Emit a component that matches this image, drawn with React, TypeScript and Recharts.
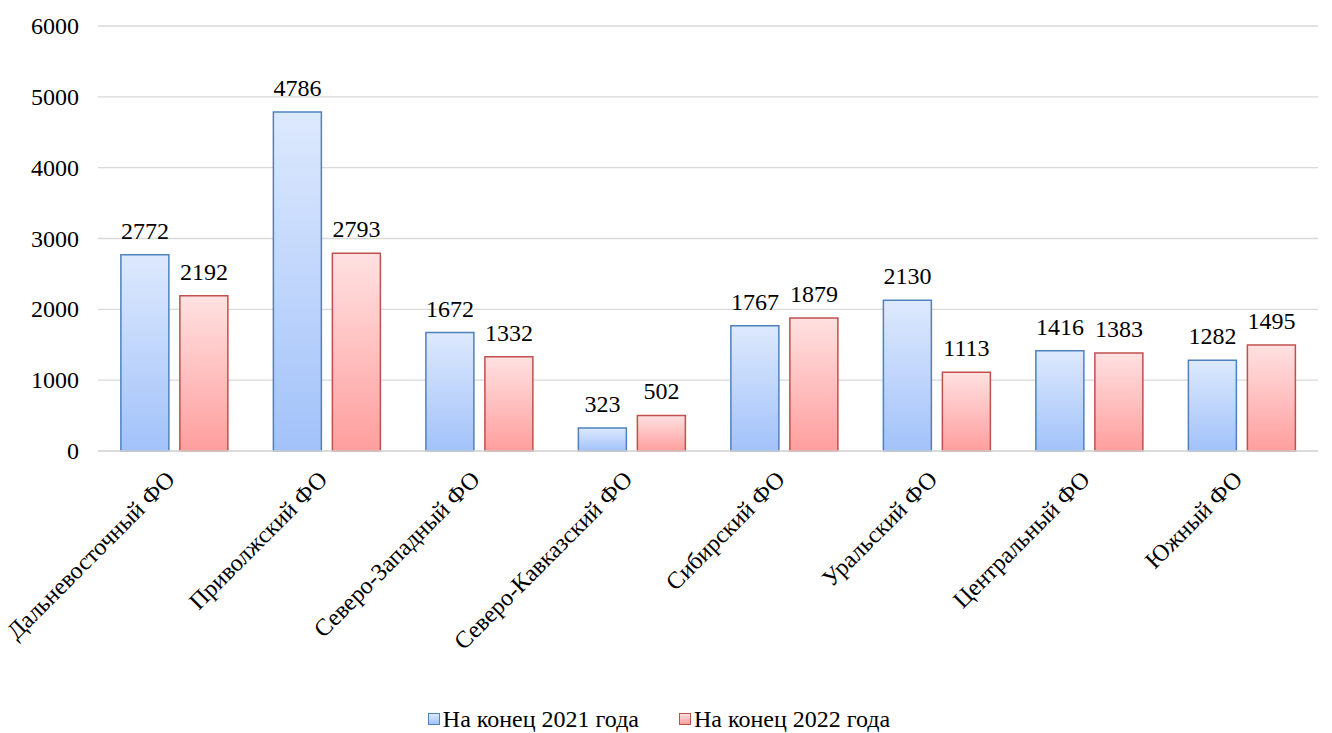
import React from 'react';
import { BarChart, Bar, XAxis, YAxis, CartesianGrid, LabelList, Legend } from 'recharts';

const categories = ['Дальневосточный ФО', 'Приволжский ФО', 'Северо-Западный ФО', 'Северо-Кавказский ФО', 'Сибирский ФО', 'Уральский ФО', 'Центральный ФО', 'Южный ФО'];
const values2021 = [2772, 4786, 1672, 323, 1767, 2130, 1416, 1282];
const values2022 = [2192, 2793, 1332, 502, 1879, 1113, 1383, 1495];
const yTicks = [0, 1000, 2000, 3000, 4000, 5000, 6000];
const seriesNames = ['На конец 2021 года', 'На конец 2022 года'];

const data = categories.map((c, i) => ({ name: c, a: values2021[i], b: values2022[i] }));

const FONT = 'Liberation Serif, Tinos, serif';
const FS = 24;

const XTick = (props: any) => {
  const { x, y, payload } = props;
  const tx = x + 2;
  const ty = y + 22;
  return (
    <text x={tx} y={ty} transform={`rotate(-45, ${tx}, ${ty})`} textAnchor="end" fontFamily={FONT} fontSize={FS} fill="#000">
      {payload.value}
    </text>
  );
};

const YTick = (props: any) => {
  const { x, y, payload } = props;
  return (
    <text x={x} y={y} dy={8} textAnchor="end" fontFamily={FONT} fontSize={FS} fill="#000">
      {payload.value}
    </text>
  );
};

const BarLabel = (props: any) => {
  const { x, y, width, value } = props;
  return (
    <text x={x + width / 2} y={y - 16} textAnchor="middle" fontFamily={FONT} fontSize={FS} fill="#000">
      {value}
    </text>
  );
};

const LegendContent = () => (
  <div style={{ display: 'flex', justifyContent: 'center', fontFamily: FONT, fontSize: FS, color: '#000', lineHeight: '28px' }}>
    <span style={{ display: 'flex', alignItems: 'center', marginRight: 40 }}>
      <span style={{ width: 10, height: 10, background: 'linear-gradient(#dce8fd, #a3c3fa)', border: '1.5px solid #4f81bd', marginRight: 3 }} />
      {seriesNames[0]}
    </span>
    <span style={{ display: 'flex', alignItems: 'center' }}>
      <span style={{ width: 10, height: 10, background: 'linear-gradient(#ffe0e0, #ff9f9f)', border: '1.5px solid #c0504d', marginRight: 3 }} />
      {seriesNames[1]}
    </span>
  </div>
);

export default function App() {
  return (
    <div style={{ position: 'absolute', left: 0, top: 0, background: '#fff', fontFamily: FONT }}>
      <BarChart width={1332} height={733} data={data} margin={{ top: 26, right: 14, left: 0, bottom: 0 }} barCategoryGap="15%" barGap={11}>
        <defs>
          <linearGradient id="gBlue" x1="0" y1="0" x2="0" y2="1">
            <stop offset="0%" stopColor="#dde9fd" />
            <stop offset="100%" stopColor="#a2c2fa" />
          </linearGradient>
          <linearGradient id="gRed" x1="0" y1="0" x2="0" y2="1">
            <stop offset="0%" stopColor="#ffe1e1" />
            <stop offset="100%" stopColor="#ff9e9e" />
          </linearGradient>
        </defs>
        <CartesianGrid vertical={false} stroke="#d9d9d9" strokeWidth={1.3} />
        <XAxis dataKey="name" interval={0} tickLine={false} axisLine={{ stroke: '#d9d9d9', strokeWidth: 1.3 }} height={254} tick={<XTick />} />
        <YAxis width={98} domain={[0, 6000]} ticks={yTicks} tickLine={false} axisLine={false} tickMargin={13} tick={<YTick />} />
        <Legend verticalAlign="bottom" content={<LegendContent />} wrapperStyle={{ bottom: 0 }} />
        <Bar dataKey="a" name={seriesNames[0]} fill="url(#gBlue)" stroke="#4f81bd" strokeWidth={1.5} isAnimationActive={false}>
          <LabelList dataKey="a" content={<BarLabel />} />
        </Bar>
        <Bar dataKey="b" name={seriesNames[1]} fill="url(#gRed)" stroke="#c0504d" strokeWidth={1.5} isAnimationActive={false}>
          <LabelList dataKey="b" content={<BarLabel />} />
        </Bar>
      </BarChart>
    </div>
  );
}
